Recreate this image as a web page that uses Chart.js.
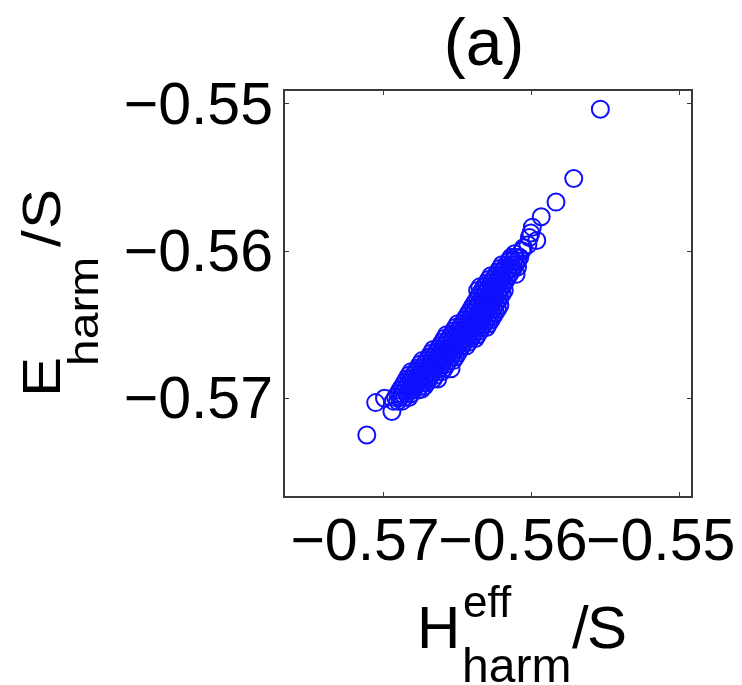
<!DOCTYPE html>
<html>
<head>
<meta charset="utf-8">
<script src="https://cdn.jsdelivr.net/npm/chart.js@4.4.1/dist/chart.umd.min.js"></script>
<style>
  html, body { margin: 0; padding: 0; background: #fff; }
  canvas { display: block; }
</style>
</head>
<body>
<canvas id="scatter" width="742" height="685"></canvas>
<script>
const xTicks = [-0.57, -0.56, -0.55];
const yTicks = [-0.57, -0.56, -0.55];
const axisMin = -0.5767;
const axisMax = -0.5491;

// dense band, read row by row: E_harm/S of each row, then the H_eff/S values in it
const rowY = [
  -0.5702, -0.56995, -0.5697, -0.56945, -0.5692, -0.56895, -0.5687, -0.56845,
  -0.5682, -0.56795, -0.5677, -0.56745, -0.5672, -0.56695, -0.5667, -0.56645,
  -0.5662, -0.56595, -0.5657, -0.56545, -0.5652, -0.56495, -0.5647, -0.56445,
  -0.5642, -0.56395, -0.5637, -0.56345, -0.5632, -0.56295, -0.5627, -0.56245,
  -0.5622, -0.56195, -0.5617, -0.56145, -0.5612, -0.56095, -0.5607, -0.56045
];
const rowX = [
  [-0.5693, -0.5690, -0.5687],
  [-0.56915, -0.56885, -0.56855, -0.56825],
  [-0.5690, -0.5687, -0.5684, -0.5681],
  [-0.56885, -0.56855, -0.56825, -0.56795, -0.56765],
  [-0.5687, -0.5684, -0.5681, -0.5678, -0.5675, -0.5672],
  [-0.56855, -0.56825, -0.56795, -0.56765, -0.56735, -0.56705],
  [-0.5684, -0.5681, -0.5678, -0.5675, -0.5672, -0.5669, -0.5666],
  [-0.56825, -0.56795, -0.56765, -0.56735, -0.56705, -0.56675, -0.56645],
  [-0.5681, -0.5678, -0.5675, -0.5672, -0.5669, -0.5666, -0.5663, -0.5660],
  [-0.56765, -0.56735, -0.56705, -0.56675, -0.56645, -0.56615, -0.56585],
  [-0.5675, -0.5672, -0.5669, -0.5666, -0.5663, -0.5660, -0.5657],
  [-0.56735, -0.56705, -0.56675, -0.56645, -0.56615, -0.56585, -0.56555, -0.56525],
  [-0.5669, -0.5666, -0.5663, -0.5660, -0.5657, -0.5654, -0.5651],
  [-0.56675, -0.56645, -0.56615, -0.56585, -0.56555, -0.56525, -0.56495],
  [-0.5666, -0.5663, -0.5660, -0.5657, -0.5654, -0.5651, -0.5648],
  [-0.56615, -0.56585, -0.56555, -0.56525, -0.56495, -0.56465, -0.56435],
  [-0.5660, -0.5657, -0.5654, -0.5651, -0.5648, -0.5645, -0.5642],
  [-0.56585, -0.56555, -0.56525, -0.56495, -0.56465, -0.56435, -0.56405, -0.56375],
  [-0.5657, -0.5654, -0.5651, -0.5648, -0.5645, -0.5642, -0.5639, -0.5636],
  [-0.56525, -0.56495, -0.56465, -0.56435, -0.56405, -0.56375, -0.56345],
  [-0.5651, -0.5648, -0.5645, -0.5642, -0.5639, -0.5636, -0.5633, -0.5630],
  [-0.56495, -0.56465, -0.56435, -0.56405, -0.56375, -0.56345, -0.56315, -0.56285],
  [-0.5645, -0.5642, -0.5639, -0.5636, -0.5633, -0.5630, -0.5627],
  [-0.56435, -0.56405, -0.56375, -0.56345, -0.56315, -0.56285, -0.56255],
  [-0.5642, -0.5639, -0.5636, -0.5633, -0.5630, -0.5627, -0.5624],
  [-0.56405, -0.56375, -0.56345, -0.56315, -0.56285, -0.56255, -0.56225],
  [-0.5639, -0.5636, -0.5633, -0.5630, -0.5627, -0.5624, -0.5621],
  [-0.56375, -0.56345, -0.56315, -0.56285, -0.56255, -0.56225],
  [-0.5636, -0.5633, -0.5630, -0.5627, -0.5624, -0.5621],
  [-0.56345, -0.56315, -0.56285, -0.56255, -0.56225, -0.56195],
  [-0.5636, -0.5633, -0.5630, -0.5627, -0.5624, -0.5621, -0.5618],
  [-0.56345, -0.56315, -0.56285, -0.56255, -0.56225, -0.56195],
  [-0.5630, -0.5627, -0.5624, -0.5621, -0.5618],
  [-0.56285, -0.56255, -0.56225, -0.56195, -0.56165],
  [-0.5627, -0.5624, -0.5621, -0.5618, -0.5615],
  [-0.56225, -0.56195, -0.56165, -0.56135],
  [-0.5621, -0.5618, -0.5615, -0.5612],
  [-0.56195, -0.56165, -0.56135, -0.56105],
  [-0.5615, -0.5612, -0.5609],
  [-0.56135, -0.56105, -0.56075]
];

// sparse points at the ends of the band and the outliers: [H_eff/S, E_harm/S]
const strays = [
  [-0.5610,-0.5616],[-0.5609,-0.5611],[-0.5608,-0.5605],[-0.5614,-0.5606],[-0.5611,-0.5602],
  [-0.5606,-0.5600],[-0.5605,-0.5598],[-0.5602,-0.5596],[-0.5601,-0.5591],[-0.5596,-0.5593],
  [-0.5600,-0.5588],[-0.5599,-0.5584],[-0.5593,-0.5577],[-0.5583,-0.5567],[-0.5571,-0.5551],
  [-0.5553,-0.5504],
  [-0.5674,-0.5694],[-0.5663,-0.5687],[-0.5654,-0.5680],
  [-0.5699,-0.5700],[-0.5705,-0.5703],[-0.5694,-0.5709],[-0.5711,-0.5725]
];

const FONT = '"Liberation Sans", Arial, Helvetica, sans-serif';
const fmt = v => '\u2212' + Math.abs(v).toFixed(2);

function text(ctx, str, x, y, size, align) {
  ctx.font = size + 'px ' + FONT;
  ctx.textAlign = align || 'left';
  ctx.textBaseline = 'alphabetic';
  ctx.fillText(str, x, y);
}

const framePlugin = {
  id: 'frame',
  afterDatasetsDraw(chart) {
    const { ctx, chartArea: a, scales: { x, y } } = chart;
    ctx.save();
    ctx.strokeStyle = '#3a3a3a';
    ctx.lineWidth = 2;
    ctx.strokeRect(a.left, a.top, a.right - a.left, a.bottom - a.top);
    ctx.lineWidth = 1;
    ctx.beginPath();
    xTicks.forEach(v => {
      const px = Math.round(x.getPixelForValue(v)) + 0.5;
      ctx.moveTo(px, a.bottom); ctx.lineTo(px, a.bottom - 5);
      ctx.moveTo(px, a.top); ctx.lineTo(px, a.top + 5);
    });
    yTicks.forEach(v => {
      const py = Math.round(y.getPixelForValue(v)) + 0.5;
      ctx.moveTo(a.left, py); ctx.lineTo(a.left + 5, py);
      ctx.moveTo(a.right, py); ctx.lineTo(a.right - 5, py);
    });
    ctx.stroke();
    ctx.restore();
  },
  afterDraw(chart) {
    const ctx = chart.ctx;
    ctx.save();
    ctx.fillStyle = '#000';
    // title
    text(ctx, '(a)', 484, 65, 66, 'center');
    // x axis title: H^eff_harm / S
    text(ctx, 'H', 417, 648, 60);
    text(ctx, 'eff', 463, 617, 44);
    text(ctx, 'harm', 462, 682, 48);
    text(ctx, '/', 572, 648, 60);
    text(ctx, 'S', 587, 648, 60);
    // y axis title: E_harm / S, rotated
    ctx.translate(60, 397);
    ctx.rotate(-Math.PI / 2);
    ctx.scale(1, 0.9);
    text(ctx, 'E', 0, 0, 60);
    text(ctx, 'harm', 31, 42, 48);
    text(ctx, '/', 150, 0, 60);
    text(ctx, 'S', 168, 0, 60);
    ctx.restore();
  }
};

const pinX = scale => { scale.height = 188; scale.paddingLeft = 0; scale.paddingRight = 0; };
const pinY = scale => { scale.width = 284; scale.paddingTop = 0; scale.paddingBottom = 0; };

const bandPoints = rowY.flatMap((yv, i) => rowX[i].map(xv => ({ x: xv, y: yv })));
const strayPoints = strays.map(p => ({ x: p[0], y: p[1] }));

new Chart(document.getElementById('scatter'), {
  type: 'scatter',
  data: {
    datasets: [{
      data: bandPoints.concat(strayPoints),
      pointStyle: 'circle',
      pointRadius: 8.5,
      pointBorderWidth: 2,
      borderColor: '#1010ff',
      backgroundColor: 'rgba(0,0,0,0)'
    }]
  },
  options: {
    responsive: false,
    animation: false,
    events: [],
    layout: { padding: { top: 90, right: 50, bottom: 0, left: 0 } },
    plugins: { legend: { display: false }, tooltip: { enabled: false } },
    scales: {
      x: {
        type: 'linear',
        min: axisMin,
        max: axisMax,
        afterBuildTicks: s => { s.ticks = xTicks.map(v => ({ value: v })); },
        afterFit: pinX,
        grid: { display: false, drawTicks: false },
        border: { display: false },
        ticks: {
          autoSkip: false, maxRotation: 0, minRotation: 0,
          padding: 11, labelOffset: -18,
          color: '#000', font: { family: FONT, size: 59 },
          callback: fmt
        }
      },
      y: {
        type: 'linear',
        min: axisMin,
        max: axisMax,
        afterBuildTicks: s => { s.ticks = yTicks.map(v => ({ value: v })); },
        afterFit: pinY,
        grid: { display: false, drawTicks: false },
        border: { display: false },
        ticks: {
          autoSkip: false,
          padding: 11, labelOffset: 4,
          color: '#000', font: { family: FONT, size: 59 },
          callback: fmt
        }
      }
    }
  },
  plugins: [framePlugin]
});
</script>
</body>
</html>
